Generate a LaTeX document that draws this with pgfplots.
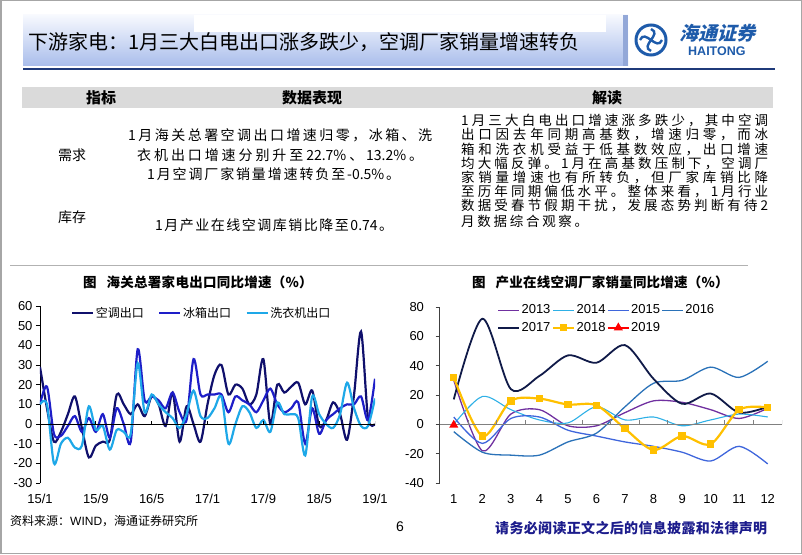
\documentclass[border=0pt]{standalone}
\usepackage{fontspec}
\usepackage{pgfplots}
\usepackage{pgfplotstable}
\pgfplotsset{compat=1.18}
\setmainfont{Liberation Sans}
\newfontfamily\cjk{Noto Sans CJK SC}
\newfontfamily\cjkslant[FakeSlant=0.25]{Noto Sans CJK SC}
\newfontfamily\arial{Liberation Sans}
\newcommand\fs[1]{\fontsize{#1}{#1}\selectfont}
\def\spreadit#1#2\endspread{{#1}\if\relax\detokenize{#2}\relax\else\hfill\spreadit#2\endspread\fi}
\newcommand\spr[2]{\hbox to #1{\spreadit#2\endspread}}

\definecolor{hdtop}{HTML}{F7F9FE}
\definecolor{hdbot}{HTML}{A9BDEB}
\definecolor{hdedge}{HTML}{93A8D8}
\definecolor{navyline}{HTML}{1F3A7A}
\definecolor{logoblue}{HTML}{1E5BAA}
\definecolor{hdrgray}{HTML}{DADADA}
\definecolor{footblue}{HTML}{1C1C8C}
\definecolor{acc}{HTML}{10106C}
\definecolor{frc}{HTML}{1E1EC8}
\definecolor{wmc}{HTML}{1EA8E8}
\definecolor{c13}{HTML}{7030A0}
\definecolor{c14}{HTML}{2EB0E6}
\definecolor{c15}{HTML}{3F66DC}
\definecolor{c16}{HTML}{2A72B8}
\definecolor{c17}{HTML}{101A48}
\definecolor{c18}{HTML}{FFC000}

\pgfplotstableread{
m ac fr wm
0 29 10 10
1 8 19 10
2 -9 -5 -20
3 -4 -6 -10
4 5 -1 -7
5 14 4 -12
6 -2 -4 -11
7 -17 3 9
8 -11 -4 -3
9 -9 5 -1
10 -8 -7 -13
11 15 8 -3
12 10 0 -4
13 5 -9 -5
14 10 38 31
15 4 12 6
16 14 14 15
17 10 12 10
18 -1 8 6
19 16 16 3
20 -9 6 -2
21 9 2 5
22 0 33 17
23 -9 15 4
24 10 15 3
25 25 15 8
26 30 15 14
27 15 6 -10
28 20 14 0
29 18 12 9
30 10 10 6
31 15 6 -2
32 33 12 2
33 0 18 -4
34 20 10 11
35 16 6 5
36 19 8 5
37 21 11 3
38 10 -10 -16
39 17 8 14
40 -1 -5 5
41 2 2 0
42 11 5 -2
43 5 8 5
44 -8 10 21
45 15 10 8
46 47 14 -1
47 3 2 -1
48 0 23 13
}\leftdata

\pgfplotstableread{
c y13 y14 y15 y16 y17 y18
1 30 0 5 -5 17 32
2 -18 19 -13 -19 72 -8
3 7 10 4 -21 24 16
4 10 3 5 -21 33 17.5
5 -1 1 -4 -12 47 13.5
6 -1 12 -8 -6 42 13
7 8 3 -12 12 54 -3
8 16 5 -15 28 31 -17.5
9 15 -1 -19 30 14 -8
10 10 3 -25 39 21 -13.5
11 4 7 -15 32 8 10
12 11 5 -27 43 12 11.5
}\rightdata

\begin{document}
\begin{tikzpicture}[x=1pt,y=1pt]
\useasboundingbox (0,0) rectangle (802,554);
\draw[gray!70, line width=1.5pt] (0.75,0.75) rectangle (801.25,553.25);
% header
\shade[top color=hdtop, bottom color=hdbot] (23,488) rectangle (628,539);
\fill[hdedge] (623,488) rectangle (628,539);
\fill[white] (194,522) rectangle (606,539);
\draw[navyline, line width=2pt] (23,485) -- (775,485);
\node[anchor=west, inner sep=0] at (28,512) {\cjk\fs{20}下游家电：1月三大白电出口涨多跌少，空调厂家销量增速转负};
% logo
\draw[logoblue, line width=3pt] (651,514) circle (15);
\draw[logoblue, line width=2.4pt] (640,514) .. controls (645,526) and (657,502) .. (662,514);
\draw[logoblue, line width=2.4pt] (651,503) .. controls (639,508) and (663,520) .. (651,525);
\node[anchor=west, inner sep=0, logoblue] at (679,521) {\cjkslant\bfseries\fs{19}海通证券};
\node[anchor=west, inner sep=0, logoblue] at (688,503) {\arial\bfseries\fs{12.5}HAITONG};
% table
\fill[hdrgray] (22,446) rectangle (773,467);
\node[inner sep=0] at (101,456) {\cjk\bfseries\fs{15}指标};
\node[inner sep=0] at (312,456) {\cjk\bfseries\fs{15}数据表现};
\node[inner sep=0] at (607,456) {\cjk\bfseries\fs{15}解读};
\node[inner sep=0] at (72,399) {\cjk\fs{14}需求};
\node[inner sep=0] at (72,337) {\cjk\fs{14}库存};
\node[anchor=west, inner sep=0] at (128,419) {\cjk\fs{14}\spr{304pt}{1月海关总署空调出口增速归零，冰箱、洗}};
\node[anchor=west, inner sep=0] at (137,399) {\cjk\fs{14}\spr{286pt}{衣机出口增速分别升至{22.7\%}、{13.2\%}。}};
\node[anchor=west, inner sep=0] at (147,380) {\cjk\fs{14}\spr{253pt}{1月空调厂家销量增速转负至{-0.5\%}。}};
\node[anchor=west, inner sep=0] at (155,329) {\cjk\fs{14}\spr{238pt}{1月产业在线空调库销比降至{0.74}。}};
\begin{scope}[every node/.style={anchor=west, inner sep=0}]
\node at (461,433.3) {\cjk\fs{13.5}\spr{307pt}{1月三大白电出口增速涨多跌少，其中空调}};
\node at (461,419) {\cjk\fs{13.5}\spr{307pt}{出口因去年同期高基数，增速归零，而冰}};
\node at (461,404.7) {\cjk\fs{13.5}\spr{307pt}{箱和洗衣机受益于低基数效应，出口增速}};
\node at (461,390.7) {\cjk\fs{13.5}\spr{307pt}{均大幅反弹。1月在高基数压制下，空调厂}};
\node at (461,376.3) {\cjk\fs{13.5}\spr{307pt}{家销量增速也有所转负，但厂家库销比降}};
\node at (461,362.3) {\cjk\fs{13.5}\spr{307pt}{至历年同期偏低水平。整体来看，1月行业}};
\node at (461,348) {\cjk\fs{13.5}\spr{307pt}{数据受春节假期干扰，发展态势判断有待2}};
\node at (461,333) {\cjk\fs{13.5}\spr{127pt}{月数据综合观察。}};
\end{scope}
\draw[gray!60, line width=0.8pt] (10,289) -- (748,289);
% chart titles
\node[anchor=west, inner sep=0] at (83,272) {\cjk\bfseries\fs{13.5}图\hspace{10pt}\spr{206pt}{海关总署家电出口同比增速（\%）}};
\node[anchor=west, inner sep=0] at (472,272) {\cjk\bfseries\fs{13.5}图\hspace{10pt}\spr{233pt}{产业在线空调厂家销量同比增速（\%）}};
% footer
\node[anchor=west, inner sep=0] at (10,33) {\cjk\fs{12}资料来源：{\arial WIND}，海通证券研究所};
\node[inner sep=0] at (400,27) {\arial\fs{14}6};
\node[anchor=west, inner sep=0, footblue] at (495,26) {\cjk\bfseries\fs{14}\spr{272pt}{请务必阅读正文之后的信息披露和法律声明}};

% left chart
\begin{axis}[
  at={(40pt,71pt)}, anchor=south west, scale only axis,
  width=335pt, height=177pt,
  xmin=0, xmax=48, ymin=-30, ymax=60,
  separate axis lines,
  axis y line*=left, axis x line*=bottom,
  x axis line style={draw=none},
  y axis line style={black, line width=0.8pt, -},
  xtick={0,8,...,48}, xticklabels={15/1,15/9,16/5,17/1,17/9,18/5,19/1},
  xtick style={draw=none},
  ytick={-30,-20,...,60},
  ytick style={black, line width=0.8pt},
  tick align=outside, major tick length=4pt,
  /pgf/number format/assume math mode=true,
  tick label style={font=\arial\fs{13}},
  xticklabel style={yshift=-4pt},
  legend columns=3,
  legend style={at={(0.0925,0.96)}, anchor=west, draw=none, fill=none, inner sep=0pt,
    font=\cjk\fs{12}, nodes={inner xsep=1.5pt, inner ysep=1pt},
    /tikz/every odd column/.append style={column sep=0pt},
    /tikz/every even column/.append style={column sep=13pt}},
  legend image code/.code={\draw[#1] (0pt,0pt) -- (21pt,0pt);},
]
\addplot[acc, line width=2.2pt, smooth] table[x=m, y=ac] {\leftdata};
\addplot[frc, line width=2.2pt, smooth] table[x=m, y=fr] {\leftdata};
\addplot[wmc, line width=2.2pt, smooth] table[x=m, y=wm] {\leftdata};
\legend{空调出口,冰箱出口,洗衣机出口}
\draw[black, line width=0.8pt] (axis cs:0,0) -- (axis cs:48,0);
\pgfplotsinvokeforeach{0,8,16,24,32,40,48}{\draw[black, line width=0.8pt] (axis cs:#1,0) -- ++(0pt,3pt);}
\end{axis}

% right chart
\begin{axis}[
  at={(439.5pt,71pt)}, anchor=south west, scale only axis,
  width=342.5pt, height=176pt,
  xmin=0.5, xmax=12.5, ymin=-40, ymax=80,
  separate axis lines,
  axis y line*=left, axis x line*=bottom,
  x axis line style={draw=none},
  y axis line style={black!75, line width=0.8pt, -},
  xtick={1,...,12},
  xtick style={draw=none},
  ytick={-40,-20,...,80},
  ytick style={black!75, line width=0.8pt},
  tick align=outside, major tick length=4pt,
  /pgf/number format/assume math mode=true,
  tick label style={font=\arial\fs{13}},
  xticklabel style={yshift=-4pt},
  yticklabel style={xshift=-8pt},
  legend columns=4,
  legend style={at={(0.168,0.932)}, anchor=west, draw=none, fill=none, inner sep=0pt,
    font=\arial\fs{13}, nodes={inner xsep=1.5pt, inner ysep=1pt},
    /tikz/every odd column/.append style={column sep=0pt},
    /tikz/every even column/.append style={column sep=0pt},
    row sep=5pt},
  legend image code/.code={\draw[mark repeat=2, mark phase=2, #1] plot coordinates {(0pt,0pt) (10.5pt,0pt) (21pt,0pt)};},
]
\addplot[c13, line width=1.3pt, smooth] table[x=c, y=y13] {\rightdata};
\addplot[c14, line width=1.1pt, smooth] table[x=c, y=y14] {\rightdata};
\addplot[c15, line width=1.3pt, smooth] table[x=c, y=y15] {\rightdata};
\addplot[c16, line width=1.3pt, smooth] table[x=c, y=y16] {\rightdata};
\addplot[c17, line width=1.8pt, smooth] table[x=c, y=y17] {\rightdata};
\addplot[c18, line width=2.2pt, smooth, mark=square*, mark size=2.6pt, mark options={solid}] table[x=c, y=y18] {\rightdata};
\addplot[red, line width=1.5pt, mark=triangle*, mark size=3.8pt] coordinates {(1,-0.5)};
\legend{2013,2014,2015,2016,2017,2018,2019}
\draw[gray, line width=1pt] (axis cs:0.5,0) -- (axis cs:12.5,0);
\pgfplotsinvokeforeach{0.5,1.5,2.5,3.5,4.5,5.5,6.5,7.5,8.5,9.5,10.5,11.5,12.5}{\draw[gray, line width=1pt] (axis cs:#1,0) -- ++(0pt,4pt);}
\end{axis}
\end{tikzpicture}
\end{document}
